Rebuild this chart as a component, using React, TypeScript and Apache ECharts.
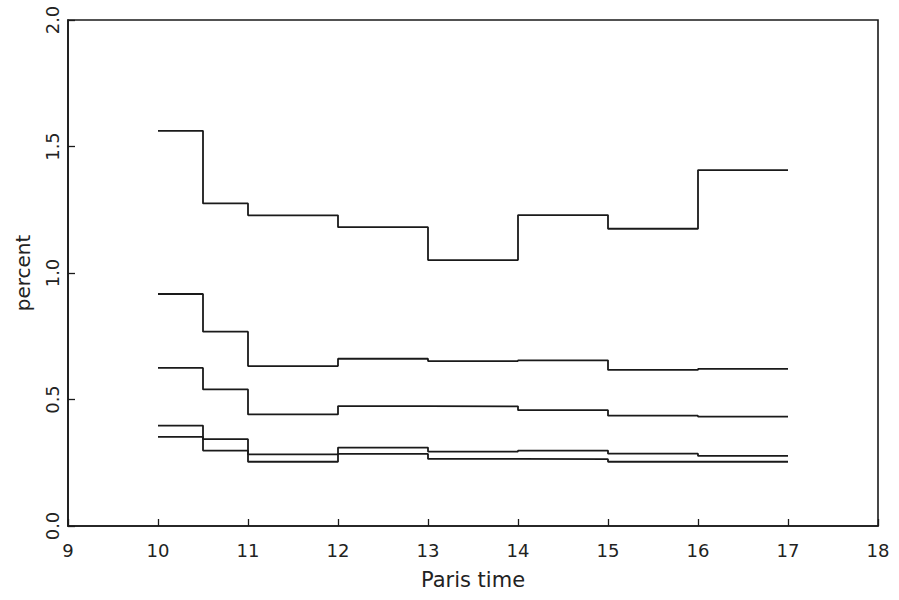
import React, { useEffect, useRef } from "react";
import * as echarts from "echarts";

const times = [10, 10.5, 11, 12, 13, 14, 15, 16, 17];
const xTicks = [9, 10, 11, 12, 13, 14, 15, 16, 17, 18];
const yTicks = [0.0, 0.5, 1.0, 1.5, 2.0];

// value for each interval starting at times[i]; last entry repeats the final interval value
const series1 = [1.562, 1.275, 1.228, 1.181, 1.051, 1.229, 1.175, 1.407, 1.407];
const series2 = [0.917, 0.768, 0.632, 0.661, 0.652, 0.655, 0.617, 0.621, 0.621];
const series3 = [0.625, 0.540, 0.441, 0.474, 0.473, 0.458, 0.436, 0.432, 0.432];
const series4 = [0.397, 0.298, 0.283, 0.310, 0.294, 0.298, 0.286, 0.277, 0.277];
const series5 = [0.352, 0.343, 0.254, 0.285, 0.265, 0.264, 0.254, 0.254, 0.254];

const allSeries = [series1, series2, series3, series4, series5];

export default function App() {
  const ref = useRef<HTMLDivElement>(null);
  useEffect(() => {
    if (!ref.current) return;
    const chart = echarts.init(ref.current, null, { renderer: "svg" });
    const font = "DejaVu Sans, Verdana, sans-serif";
    chart.setOption({
      animation: false,
      backgroundColor: "#ffffff",
      grid: {
        left: 68,
        right: 21,
        top: 20,
        bottom: 74,
        show: true,
        borderColor: "#1a1a1a",
        borderWidth: 1.6,
        containLabel: false,
      },
      xAxis: {
        type: "value",
        min: xTicks[0],
        max: xTicks[xTicks.length - 1],
        interval: 1,
        name: "Paris time",
        nameLocation: "middle",
        nameGap: 43,
        nameTextStyle: { fontFamily: font, fontSize: 21, color: "#222" },
        axisLine: { show: true, lineStyle: { color: "#1a1a1a", width: 1.6 } },
        axisTick: { show: true, inside: true, length: 7, lineStyle: { color: "#1a1a1a", width: 1.3 } },
        axisLabel: {
          fontFamily: font,
          fontSize: 18,
          color: "#222",
          margin: 15,
          formatter: (v: number) => String(v),
        },
        splitLine: { show: false },
      },
      yAxis: {
        type: "value",
        min: yTicks[0],
        max: yTicks[yTicks.length - 1],
        interval: 0.5,
        name: "percent",
        nameLocation: "middle",
        nameRotate: 90,
        nameGap: 35,
        nameTextStyle: { fontFamily: font, fontSize: 20, color: "#222" },
        axisLine: { show: true, lineStyle: { color: "#1a1a1a", width: 1.6 } },
        axisTick: { show: true, inside: true, length: 7, lineStyle: { color: "#1a1a1a", width: 1.3 } },
        axisLabel: {
          fontFamily: font,
          fontSize: 18,
          color: "#222",
          rotate: 90,
          margin: 7,
          formatter: (v: number) => v.toFixed(1),
        },
        splitLine: { show: false },
      },
      series: allSeries.map((vals, i) => ({
        type: "line",
        name: "s" + (i + 1),
        step: "end",
        showSymbol: false,
        symbol: "none",
        data: times.map((t, j) => [t, vals[j]]),
        lineStyle: { color: "#1a1a1a", width: 1.8 },
      })),
    });
    return () => chart.dispose();
  }, []);
  return (
    <div
      ref={ref}
      style={{ position: "fixed", left: 0, top: 0, width: 899, height: 600 }}
    />
  );
}
